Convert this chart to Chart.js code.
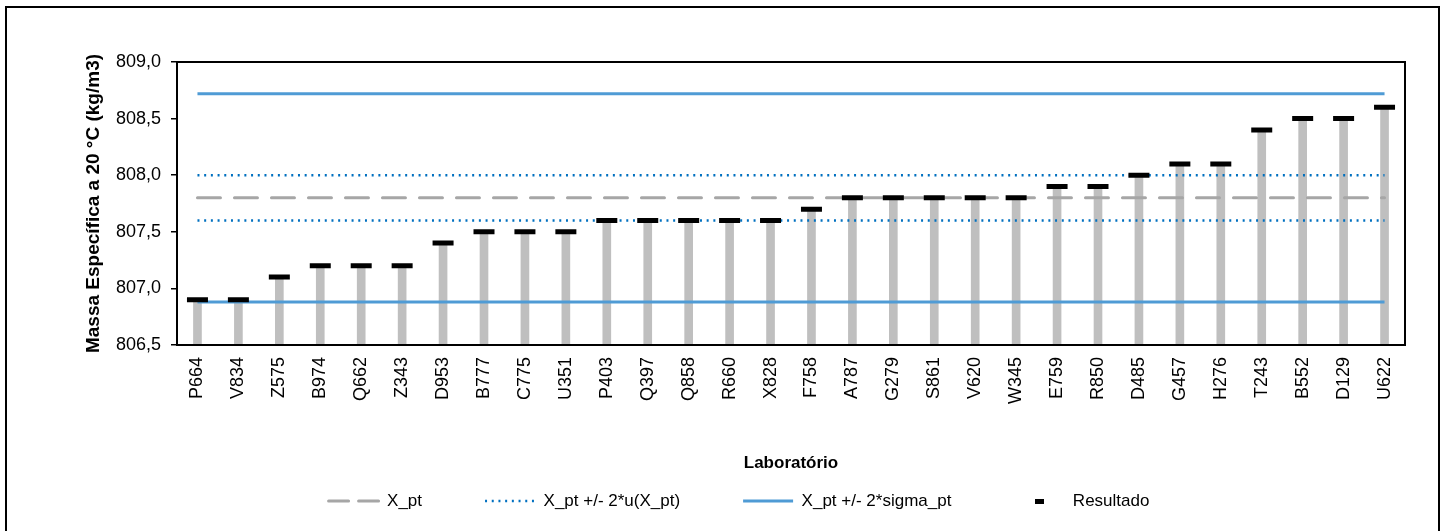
<!DOCTYPE html>
<html>
<head>
<meta charset="utf-8">
<script src="https://cdn.jsdelivr.net/npm/chart.js@4/dist/chart.umd.min.js"></script>
<style>
  body { margin: 0; background: #fff; }
</style>
</head>
<body>
<canvas id="myChart" width="1448" height="531"></canvas>
<script>
// laboratories, in the order shown
const labs = ['P664', 'V834', 'Z575', 'B974', 'Q662', 'Z343', 'D953', 'B777', 'C775', 'U351',
              'P403', 'Q397', 'Q858', 'R660', 'X828', 'F758', 'A787', 'G279', 'S861', 'V620',
              'W345', 'E759', 'R850', 'D485', 'G457', 'H276', 'T243', 'B552', 'D129', 'U622'];

const resultado = [806.9, 806.9, 807.1, 807.2, 807.2, 807.2, 807.4, 807.5, 807.5, 807.5,
                   807.6, 807.6, 807.6, 807.6, 807.6, 807.7, 807.8, 807.8, 807.8, 807.8,
                   807.8, 807.9, 807.9, 808.0, 808.1, 808.1, 808.4, 808.5, 808.5, 808.6];

// reference values (constant across labs)
const xPt = 807.8;
const uLow = 807.6;
const uHigh = 808.0;
const sigLow = 806.88;
const sigHigh = 808.72;

const yTicks = [806.5, 807.0, 807.5, 808.0, 808.5, 809.0];

Chart.defaults.font.family = "'Liberation Sans', Arial, sans-serif";
Chart.defaults.color = '#000';

const flat = v => labs.map(() => v);

const grey = '#a6a6a6';
const dotBlue = '#0070c0';
const sigBlue = '#4f9bd5';

const data = {
    labels: labs,
    datasets: [
        { type: 'line', label: 'X_pt', data: flat(xPt), borderColor: grey, borderWidth: 3,
          borderDash: [23, 14], borderCapStyle: 'round', pointRadius: 0, order: 1 },
        { type: 'line', label: 'X_pt +/- 2*u(X_pt)', data: flat(uHigh), borderColor: dotBlue, borderWidth: 2.5,
          borderDash: [2, 4.7], pointRadius: 0, order: 1 },
        { type: 'line', label: 'u low', data: flat(uLow), borderColor: dotBlue, borderWidth: 2.5,
          borderDash: [2, 4.7], pointRadius: 0, order: 1 },
        { type: 'line', label: 'X_pt +/- 2*sigma_pt', data: flat(sigHigh), borderColor: sigBlue, borderWidth: 3,
          pointRadius: 0, order: 1 },
        { type: 'line', label: 'sigma low', data: flat(sigLow), borderColor: sigBlue, borderWidth: 3,
          pointRadius: 0, order: 1 },
        { type: 'line', label: 'Resultado', data: resultado, showLine: false, pointStyle: 'line',
          pointRadius: 10.5, pointHoverRadius: 10.5, pointBorderWidth: 5, pointHoverBorderWidth: 5,
          borderColor: '#000', backgroundColor: '#000', order: 0 },
        { type: 'bar', label: 'bars', data: resultado, backgroundColor: '#bfbfbf',
          barThickness: 8, base: yTicks[0], order: 2 }
    ]
};

// little black bar for the "Resultado" legend entry
const mark = document.createElement('canvas');
mark.width = 9; mark.height = 5;
const mctx = mark.getContext('2d');
mctx.fillStyle = '#000';
mctx.fillRect(0, 0, 9, 5);

const legendItems = [
    { text: 'X_pt', datasetIndex: 0, pointStyle: 'line', strokeStyle: grey, fillStyle: grey,
      lineWidth: 3, lineDash: [20, 10], lineCap: 'round' },
    { text: 'X_pt +/- 2*u(X_pt)', datasetIndex: 1, pointStyle: 'line', strokeStyle: dotBlue, fillStyle: dotBlue,
      lineWidth: 2.5, lineDash: [2, 4.7] },
    { text: 'X_pt +/- 2*sigma_pt', datasetIndex: 3, pointStyle: 'line', strokeStyle: sigBlue, fillStyle: sigBlue,
      lineWidth: 3 },
    { text: 'Resultado', datasetIndex: 5, pointStyle: mark, strokeStyle: '#000', fillStyle: '#000', lineWidth: 0 }
];

const frame = {
    id: 'frame',
    afterDraw(chart) {
        const { ctx, chartArea: a } = chart;
        ctx.save();
        ctx.strokeStyle = '#000';
        ctx.lineWidth = 2;
        ctx.strokeRect(a.left, a.top, a.right - a.left, a.bottom - a.top);
        ctx.strokeRect(6, 7, 1433, 600);
        ctx.restore();
    }
};

const options = {
    responsive: false,
    animation: false,
    layout: { padding: { left: 73, right: 43, top: 62, bottom: 11.5 } },
    plugins: {
        tooltip: { enabled: false },
        legend: {
            position: 'bottom',
            labels: {
                usePointStyle: true,
                pointStyleWidth: 50,
                padding: 63,
                font: { size: 17 },
                color: '#000',
                generateLabels: () => legendItems
            }
        }
    },
    scales: {
        x: {
            offset: true,
            grid: { display: false, drawTicks: false },
            border: { display: false },
            ticks: { autoSkip: false, minRotation: 90, maxRotation: 90, padding: 12, font: { size: 18 } },
            title: { display: true, text: 'Laboratório', font: { size: 17, weight: 'bold' },
                     padding: { top: 0, bottom: -43.7 } },
            afterFit: s => { s.height = 84.5; }
        },
        y: {
            min: yTicks[0],
            max: yTicks[yTicks.length - 1],
            afterBuildTicks: s => { s.ticks = yTicks.map(v => ({ value: v })); },
            grid: { drawOnChartArea: false, drawTicks: true, tickLength: 6, color: '#000', lineWidth: 1.5 },
            border: { display: false },
            ticks: { padding: 10, font: { size: 18 }, callback: v => v.toFixed(1).replace('.', ',') },
            title: { display: true, text: 'Massa Específica a 20 °C (kg/m3)', font: { size: 19, weight: 'bold' },
                     padding: { top: 9, bottom: 0 } },
            afterFit: s => { s.width = 104; }
        }
    }
};

const ctx = document.getElementById('myChart').getContext('2d');
const myChart = new Chart(ctx, {
    type: 'bar',
    data: data,
    options: options,
    plugins: [frame]
});
</script>
</body>
</html>
